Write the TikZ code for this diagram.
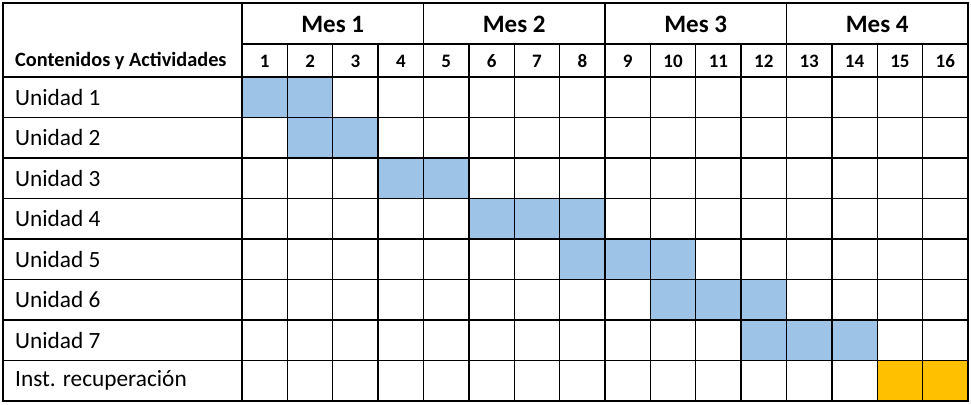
\documentclass[tikz,border=0pt]{standalone}
\usepackage{fontspec}
\setmainfont{Carlito}
\definecolor{cblue}{RGB}{157,195,230}
\definecolor{corange}{RGB}{255,192,0}
\begin{document}
\begin{tikzpicture}[x=1pt,y=-1pt,
  grid/.style={line width=1.4pt,black},
  rowlabel/.style={anchor=west,inner sep=0pt,font=\fontsize{23.3}{26}\selectfont},
  mestext/.style={inner sep=0pt,font=\fontsize{25}{28}\selectfont\bfseries},
  numtext/.style={inner sep=0pt,font=\fontsize{19}{22}\selectfont\bfseries},
  headtext/.style={anchor=west,inner sep=0pt,font=\fontsize{20.3}{23}\selectfont\bfseries}]
\useasboundingbox (0,0) rectangle (971,404);
\fill[white] (0,0) rectangle (971,404);
\def\xl{242}\def\cw{45.375}\def\rh{40.5}
% filled cells: row, first col, last col
\foreach \r/\a/\b in {1/1/2,2/2/3,3/4/5,4/6/8,5/8/10,6/10/12,7/12/14}{
  \foreach \c in {\a,...,\b}{
    \fill[cblue] ({\xl+(\c-1)*\cw},{77+(\r-1)*\rh}) rectangle ({\xl+\c*\cw},{77+\r*\rh});
  }
}
\foreach \c in {15,16}{
  \fill[corange] ({\xl+(\c-1)*\cw},{77+7*\rh}) rectangle ({\xl+\c*\cw},{77+8*\rh});
}
% grid
\draw[grid] (3,3) rectangle (968,401);
\draw[grid] (\xl,3) -- (\xl,401);
\draw[grid] (\xl,44) -- (968,44);
\foreach \r in {0,...,7}{
  \draw[grid] (3,{77+\r*\rh}) -- (968,{77+\r*\rh});
}
\foreach \c in {1,...,15}{
  \pgfmathtruncatemacro{\m}{mod(\c,4)}
  \ifnum\m=0
    \draw[grid] ({\xl+\c*\cw},3) -- ({\xl+\c*\cw},401);
  \else
    \draw[grid] ({\xl+\c*\cw},44) -- ({\xl+\c*\cw},401);
  \fi
}
% header texts
\node[headtext] (head) at (15,60.5) {Contenidos y Actividades};
\foreach \m in {1,...,4}{
  \node[mestext] (mes\m) at ({\xl+(4*\m-2)*\cw},24) {Mes \m};
}
\foreach \c in {1,...,16}{
  \node[numtext] (num\c) at ({\xl+(\c-0.5)*\cw},61) {\c};
}
\foreach \r in {1,...,7}{
  \node[rowlabel] (u\r) at (15,{77+(\r-0.5)*\rh}) {Unidad \r};
}
\node[rowlabel] (inst) at (15,{77+7.5*\rh}) {Inst. recuperación};
\end{tikzpicture}
\end{document}
